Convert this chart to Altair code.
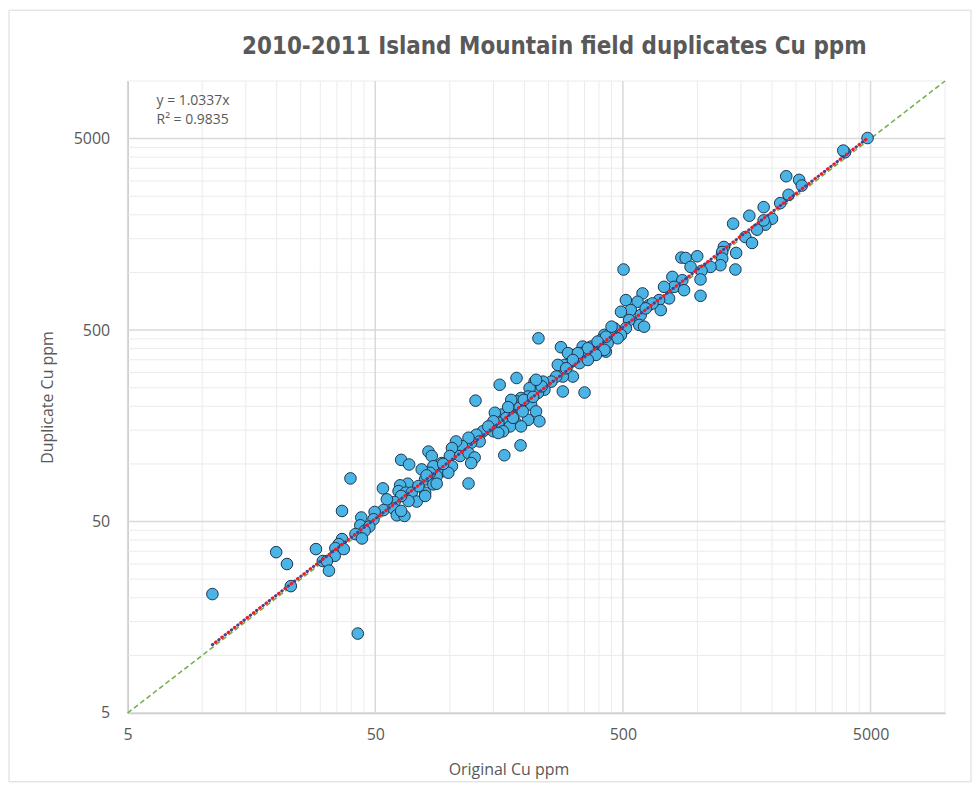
import altair as alt
import pandas as pd

chart_title = "2010-2011 Island Mountain field duplicates Cu ppm"
x_title = "Original Cu ppm"
y_title = "Duplicate Cu ppm"

# Original vs duplicate Cu (ppm)
x_orig = [11.0, 19.9, 22.0, 22.8, 28.8, 30.7, 42.5, 63.6, 68.5, 39.7,
          67.6, 63.0, 53.7, 62.1, 66.4, 70.2, 73.5, 68.1, 63.6, 59.8,
          55.7, 54.0, 59.3, 61.1, 65.6, 63.6, 49.7, 49.2, 43.9, 43.5,
          47.3, 45.3, 41.6, 44.2, 36.7, 36.7, 35.6, 34.5, 37.3, 34.3,
          31.9, 32.5, 127, 136, 128, 132, 122, 119, 112, 106,
          102, 100, 110, 119, 126, 122, 193, 166, 119, 82,
          84.5, 92.7, 85.8, 94.2, 88.5, 83.2, 79.5, 85.8, 77.0, 79.5,
          102, 98.6, 228, 159, 186, 350, 314, 286, 269, 286,
          257, 238, 220, 241, 227, 210, 207, 194, 186, 177,
          191, 213, 223, 230, 207, 197, 172, 162, 152, 169,
          183, 175, 157, 150, 164, 150, 194, 503, 861, 792,
          869, 805, 883, 768, 700, 711, 638, 600, 573, 514,
          538, 491, 590, 582, 530, 609, 514, 462, 491, 454,
          476, 421, 408, 434, 395, 427, 372, 384, 344, 339,
          361, 319, 309, 334, 281, 291, 300, 273, 733, 896,
          4863, 3941, 3880, 2283, 2574, 2639, 2333, 2159, 1851, 1620,
          1393, 2000, 1879, 1740, 1851, 1561, 1661, 1278, 1259, 1433,
          1423, 1259, 1238, 1129, 998, 938, 1039, 1029, 1029,
          450, 427, 395, 421, 389, 361, 329, 314, 361, 295,
          235, 223, 199, 217, 172, 180, 143, 157, 94, 80.6,
          74.7, 88.5, 79.5, 658, 618]
y_dup = [20.9, 34.6, 30.0, 23.0, 35.9, 31.1, 13.0, 105, 99.3, 84.0,
         78.8, 77.3, 74.5, 72.1, 70.8, 70.8, 63.6, 64.0, 68.0, 63.2,
         65.3, 57.4, 58.4, 53.9, 53.5, 56.8, 56.1, 51.4, 52.5, 47.8,
         47.1, 44.7, 43.0, 40.8, 56.8, 40.5, 38.1, 36.3, 35.9, 33.1,
         31.1, 27.7, 214, 148, 142, 131, 129, 137, 124, 131,
         121, 110, 110, 114, 108, 101, 125, 111, 79, 116,
         110, 101, 97.3, 91.7, 86.4, 89.9, 83.0, 78.2, 93.6, 70.8,
         97.3, 89.9, 453, 259, 281, 236, 286, 286, 286, 239,
         269, 269, 269, 244, 235, 249, 225, 221, 212, 216,
         196, 204, 188, 167, 170, 188, 192, 181, 185, 174,
         167, 157, 164, 167, 148, 148, 157, 1036, 1196, 948,
         911, 841, 808, 732, 717, 636, 675, 777, 703, 717,
         636, 623, 599, 532, 564, 521, 511, 511, 472, 462,
         453, 472, 444, 427, 410, 386, 410, 379, 410, 379,
         364, 371, 342, 336, 407, 329, 379, 329, 841, 1190,
         5036, 4239, 4330, 3180, 3045, 2844, 2544, 2301, 2193, 1978,
         1798, 1908, 1777, 1673, 1870, 1531, 1425, 1358, 1279, 1264,
         1036, 1182, 1091, 1069, 1215, 1069, 1019, 919, 755,
         521, 462, 435, 394, 371, 402, 379, 349, 349, 316,
         254, 275, 216, 224, 198, 174, 157, 145, 100, 87.1,
         76.6, 78.8, 68.0, 689, 649]

axis_labels = [5, 50, 500, 5000]
minor_grid = [10, 15, 20, 25, 30, 35, 40, 45,
              100, 150, 200, 250, 300, 350, 400, 450,
              1000, 1500, 2000, 2500, 3000, 3500, 4000, 4500, 10000]
axis_range = [5, 10000]
slope = 1.0337
r_squared = 0.9835
eq_text = ["y = 1.0337x", "R² = 0.9835"]

TXT = "#595959"
FONT = "Open Sans"

pts = pd.DataFrame({"x": x_orig, "y": y_dup})
xs = alt.Scale(type="log", domain=axis_range, nice=False)
ys = alt.Scale(type="log", domain=axis_range, nice=False)

ax_x = alt.Axis(
    values=axis_labels, format="d", grid=False, ticks=False, labelFlush=False,
    domainColor="#bfbfbf", domainWidth=1.5,
    labelFont=FONT, labelFontSize=16, labelColor=TXT, labelPadding=14,
    title=x_title, titleFont=FONT, titleFontSize=16, titleFontWeight="normal",
    titleColor=TXT, titleX=382, titleY=49)
ax_y = alt.Axis(
    values=axis_labels, format="d", grid=False, ticks=False, labelFlush=False,
    domainColor="#bfbfbf", domainWidth=1.5,
    labelFont=FONT, labelFontSize=16, labelColor=TXT, labelPadding=18,
    title=y_title, titleFont=FONT, titleFontSize=16, titleFontWeight="normal",
    titleColor=TXT, titleX=-72, titleY=317)

minor_df = pd.DataFrame({"v": minor_grid})
major_df = pd.DataFrame({"v": axis_labels})

gx_minor = alt.Chart(minor_df).mark_rule(color="#ebebeb", strokeWidth=1).encode(
    x=alt.X("v:Q", scale=xs, axis=ax_x))
gy_minor = alt.Chart(minor_df).mark_rule(color="#ebebeb", strokeWidth=1).encode(
    y=alt.Y("v:Q", scale=ys, axis=ax_y))
gx_major = alt.Chart(major_df).mark_rule(color="#d9d9d9", strokeWidth=1.5).encode(
    x=alt.X("v:Q", scale=xs, axis=ax_x))
gy_major = alt.Chart(major_df).mark_rule(color="#d9d9d9", strokeWidth=1.5).encode(
    y=alt.Y("v:Q", scale=ys, axis=ax_y))

one_to_one = pd.DataFrame({"x": axis_range, "y": axis_range})
diag = alt.Chart(one_to_one).mark_line(color="#70ad47", strokeWidth=1.5, strokeDash=[5, 3]).encode(
    x=alt.X("x:Q", scale=xs, axis=ax_x), y=alt.Y("y:Q", scale=ys, axis=ax_y))

tx = [min(x_orig), max(x_orig)]
trend_df = pd.DataFrame({"x": tx, "y": [slope * v for v in tx]})
trend_a = alt.Chart(trend_df).mark_line(color="#4a3f8c", strokeWidth=3, strokeCap="round",
                                        strokeDash=[0.5, 7.5]).encode(
    x=alt.X("x:Q", scale=xs, axis=ax_x), y=alt.Y("y:Q", scale=ys, axis=ax_y))
trend_b = alt.Chart(trend_df).mark_line(color="#ee1c25", strokeWidth=3.2, strokeCap="round",
                                        strokeDash=[0.5, 7.5], strokeDashOffset=4).encode(
    x=alt.X("x:Q", scale=xs, axis=ax_x), y=alt.Y("y:Q", scale=ys, axis=ax_y))

points = alt.Chart(pts).mark_circle(size=135, color="#4ab4e4", opacity=1,
                                    stroke="#1d3550", strokeWidth=1).encode(
    x=alt.X("x:Q", scale=xs, axis=ax_x),
    y=alt.Y("y:Q", scale=ys, axis=ax_y),
)

one = pd.DataFrame({"a": [0]})
eq = alt.Chart(one).mark_text(
    align="left", baseline="middle", font=FONT, fontSize=14, color=TXT, lineHeight=19).encode(
    x=alt.value(29), y=alt.value(20), text=alt.value(eq_text))

title_mark = alt.Chart(one).mark_text(
    align="center", baseline="alphabetic",
    font="Liberation Sans Narrow, DejaVu Sans Condensed, DejaVu Sans",
    fontSize=24, fontWeight="bold", color=TXT).encode(
    x=alt.value(428), y=alt.value(-27), text=alt.value(chart_title))

frame = alt.Chart(one).mark_rect(
    fillOpacity=0, stroke="#d9d9d9", strokeWidth=1).encode(
    x=alt.value(-119), x2=alt.value(846), y=alt.value(-71), y2=alt.value(703))

chart = alt.layer(frame, gx_minor, gy_minor, gx_major, gy_major, diag, points,
                  trend_a, trend_b, eq, title_mark).properties(
    width=820, height=634,
    autosize=alt.AutoSizeParams(type="none"),
    padding={"left": 120, "top": 72, "right": 27, "bottom": 70},
).configure_view(stroke=None)

chart.save("out.html", embed_options={"renderer": "svg", "actions": False})
